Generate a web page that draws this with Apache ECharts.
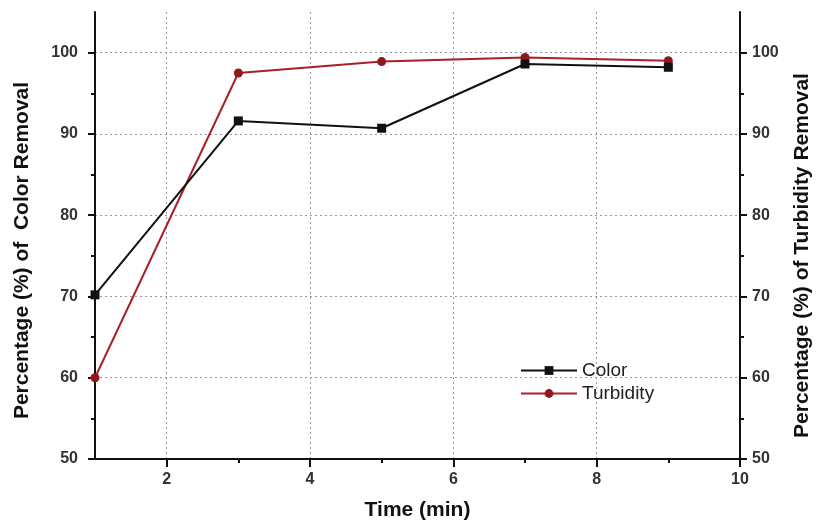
<!DOCTYPE html>
<html>
<head>
<meta charset="utf-8">
<title>Color / Turbidity removal</title>
<script src="https://cdn.jsdelivr.net/npm/echarts@6/dist/echarts.min.js"></script>
<style>
    html, body { margin: 0; padding: 0; background: #fff; }
    #chart { width: 818px; height: 521px; }
</style>
</head>
<body>
<div id="chart"></div>
<script>
// 数据
var timeMin = [1, 3, 5, 7, 9];
var colorRemoval = [70.2, 91.6, 90.7, 98.6, 98.2];
var turbidityRemoval = [60.0, 97.5, 98.9, 99.4, 99.0];

var xMajor = [2, 4, 6, 8, 10];
var xMinor = [3, 5, 7, 9];
var yMajor = [50, 60, 70, 80, 90, 100];
var yMinor = [55, 65, 75, 85, 95];

var font = 'Liberation Sans, Arial, sans-serif';

function pairs(xs, ys) {
    return xs.map(function (x, i) { return [x, ys[i]]; });
}

// 主坐标轴
function yMain(pos, name, gap, pad) {
    return {
        type: 'value', position: pos, min: 50, max: 105,
        name: name, nameLocation: 'middle', nameRotate: 90, nameGap: gap,
        nameTextStyle: { fontFamily: font, fontSize: 21, fontWeight: 'bold', color: '#111', padding: [0, pad, 0, 0] },
        axisLine: { show: true, lineStyle: { color: '#111', width: 2 } },
        axisTick: { show: true, inside: false, length: 7, customValues: yMajor, lineStyle: { color: '#111', width: 2 } },
        axisLabel: { customValues: yMajor, margin: pos === 'left' ? 17 : 12, fontFamily: font, fontSize: 16, fontWeight: 'bold', color: '#333' },
        splitLine: { show: pos === 'left', lineStyle: { color: '#999', type: [2, 3], width: 1 } }
    };
}

// 次刻度(叠加一条只画短刻度的轴)
function yMinorAxis(pos) {
    return {
        type: 'value', position: pos, min: 50, max: 105,
        axisLine: { show: false },
        axisTick: { show: true, length: 4, customValues: yMinor, lineStyle: { color: '#111', width: 2 } },
        axisLabel: { show: false },
        splitLine: { show: false }
    };
}

var myChart = echarts.init(document.getElementById('chart'));

var option = {
    backgroundColor: '#fff',
    animation: false,
    grid: { left: 95, right: 78, top: 12, bottom: 62, containLabel: false, outerBoundsMode: 'none' },
    legend: {
        orient: 'vertical',
        left: 515, top: 356,
        itemWidth: 56, itemHeight: 11, itemGap: 4,
        textStyle: { fontFamily: font, fontSize: 19, color: '#222' },
        data: ['Color', 'Turbidity']
    },
    xAxis: [{
        type: 'value', min: 1, max: 10,
        name: 'Time (min)', nameLocation: 'middle', nameGap: 41,
        nameTextStyle: { fontFamily: font, fontSize: 21, fontWeight: 'bold', color: '#111' },
        axisLine: { show: true, lineStyle: { color: '#111', width: 2 } },
        axisTick: { show: true, length: 8, customValues: xMajor, lineStyle: { color: '#111', width: 2 } },
        axisLabel: { customValues: xMajor, margin: 13, fontFamily: font, fontSize: 16, fontWeight: 'bold', color: '#333' },
        splitLine: { show: true, lineStyle: { color: '#999', type: [2, 3], width: 1 } }
    }, {
        type: 'value', min: 1, max: 10, position: 'bottom',
        axisLine: { show: false },
        axisTick: { show: true, length: 4, customValues: xMinor, lineStyle: { color: '#111', width: 2 } },
        axisLabel: { show: false },
        splitLine: { show: false }
    }],
    yAxis: [
        yMain('left', 'Percentage (%) of  Color Removal', 62, 30),
        yMain('right', 'Percentage (%) of Turbidity Removal', 52, 40),
        yMinorAxis('left'),
        yMinorAxis('right')
    ],
    series: [{
        name: 'Color',
        type: 'line',
        xAxisIndex: 0, yAxisIndex: 0,
        data: pairs(timeMin, colorRemoval),
        symbol: 'rect', symbolSize: 9,
        lineStyle: { color: '#111', width: 2 },
        itemStyle: { color: '#111' },
        z: 3
    }, {
        name: 'Turbidity',
        type: 'line',
        xAxisIndex: 0, yAxisIndex: 1,
        data: pairs(timeMin, turbidityRemoval),
        symbol: 'circle', symbolSize: 9,
        lineStyle: { color: '#a82127', width: 2 },
        itemStyle: { color: '#8e1a1f' },
        z: 2
    }]
};

myChart.setOption(option);

window.addEventListener('resize', function () {
    myChart.resize();
});
</script>
</body>
</html>
